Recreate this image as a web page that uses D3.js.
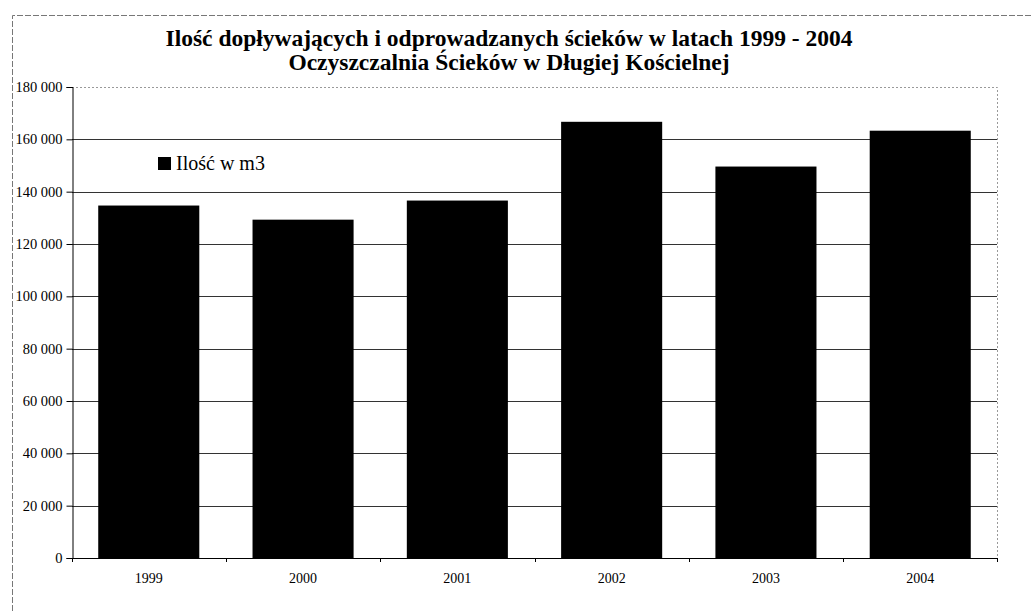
<!DOCTYPE html>
<html>
<head>
<meta charset="utf-8">
<script src="https://cdn.jsdelivr.net/npm/d3@7"></script>
<style>
  body { margin: 0; background: #fff; }
  text { font-family: "Liberation Serif", "DejaVu Serif", serif; fill: #000; }
</style>
</head>
<body>
<div id="chart"></div>
<script>
// data
var years = ["1999", "2000", "2001", "2002", "2003", "2004"];
var volumes = [134700, 129300, 136600, 166700, 149600, 163300];
var y_ticks = [0, 20000, 40000, 60000, 80000, 100000, 120000, 140000, 160000, 180000];
var title_lines = [
    "Ilość dopływających i odprowadzanych ścieków w latach 1999 - 2004",
    "Oczyszczalnia Ścieków w Długiej Kościelnej"
];
var legend_label = "Ilość w m3";

var W = 1032, H = 611;
var plot = {left: 72, right: 997, top: 87, bottom: 558};

var svg = d3.select("#chart").append("svg")
    .attr("width", W)
    .attr("height", H);

// outer chart frame (scan shows it only at top and left)
svg.append("path")
    .attr("d", "M12.5,611 L12.5,15.5 L1032,15.5")
    .attr("fill", "none")
    .attr("stroke", "#777")
    .attr("stroke-width", 1)
    .attr("stroke-dasharray", "6,2");

// title
svg.selectAll("text.title")
    .data(title_lines)
    .enter()
    .append("text")
    .attr("class", "title")
    .attr("x", 509)
    .attr("y", function(d, i) { return 46 + i * 24; })
    .attr("text-anchor", "middle")
    .style("font-size", "23.5px")
    .style("font-weight", "bold")
    .text(function(d) { return d; });

var x = d3.scaleBand()
    .domain(years)
    .range([plot.left, plot.right])
    .paddingInner(0.345)
    .paddingOuter(0.17);

var y = d3.scaleLinear()
    .domain([0, 180000])
    .range([plot.bottom, plot.top]);

var fmt = function(v) { return d3.format(",")(v).replace(/,/g, " "); };

// gridlines
svg.append("g")
    .selectAll("line")
    .data(y_ticks.slice(1, -1))
    .enter()
    .append("line")
    .attr("x1", plot.left)
    .attr("x2", plot.right)
    .attr("y1", function(d) { return Math.round(y(d)) + 0.5; })
    .attr("y2", function(d) { return Math.round(y(d)) + 0.5; })
    .attr("stroke", "#333")
    .attr("stroke-width", 1);

// plot area border top and right, dotted in the scan
svg.append("path")
    .attr("d", "M" + plot.left + "," + (plot.top + 0.5) + " L" + (plot.right + 0.5) + "," + (plot.top + 0.5) +
               " L" + (plot.right + 0.5) + "," + plot.bottom)
    .attr("fill", "none")
    .attr("stroke", "#999")
    .attr("stroke-width", 1)
    .attr("stroke-dasharray", "2,2");

// bars
svg.append("g")
    .selectAll("rect")
    .data(volumes)
    .enter()
    .append("rect")
    .attr("x", function(d, i) { return x(years[i]); })
    .attr("y", function(d) { return y(d); })
    .attr("width", x.bandwidth())
    .attr("height", function(d) { return plot.bottom - y(d); })
    .attr("fill", "#000");

// y axis
var y_axis = svg.append("g")
    .attr("transform", "translate(" + (plot.left + 0.5) + ",0)")
    .call(d3.axisLeft(y).tickValues(y_ticks).tickFormat(fmt).tickSize(6).tickPadding(4));
y_axis.attr("font-family", null).attr("font-size", null);
y_axis.select(".domain").attr("stroke", "#000");
y_axis.selectAll(".tick line").attr("stroke", "#000");
y_axis.selectAll("text")
    .style("font-size", "14.5px");

// x axis: ticks between categories, labels centred
var bounds = d3.range(years.length + 1).map(function(i) {
    return plot.left + i * (plot.right - plot.left) / years.length;
});
var x_axis = svg.append("g");
x_axis.append("line")
    .attr("x1", plot.left)
    .attr("x2", plot.right)
    .attr("y1", plot.bottom + 0.5)
    .attr("y2", plot.bottom + 0.5)
    .attr("stroke", "#000");
x_axis.selectAll("line.tick")
    .data(bounds)
    .enter()
    .append("line")
    .attr("class", "tick")
    .attr("x1", function(d) { return Math.round(d) + 0.5; })
    .attr("x2", function(d) { return Math.round(d) + 0.5; })
    .attr("y1", plot.bottom)
    .attr("y2", plot.bottom + 4)
    .attr("stroke", "#000");
x_axis.selectAll("text")
    .data(years)
    .enter()
    .append("text")
    .attr("x", function(d) { return x(d) + x.bandwidth() / 2; })
    .attr("y", 583)
    .attr("text-anchor", "middle")
    .style("font-size", "14px")
    .text(function(d) { return d; });

// legend
var legend = svg.append("g").attr("transform", "translate(158,157)");
legend.append("rect")
    .attr("width", 13)
    .attr("height", 13)
    .attr("fill", "#000");
legend.append("text")
    .attr("x", 18)
    .attr("y", 13)
    .style("font-size", "20px")
    .text(legend_label);
</script>
</body>
</html>
